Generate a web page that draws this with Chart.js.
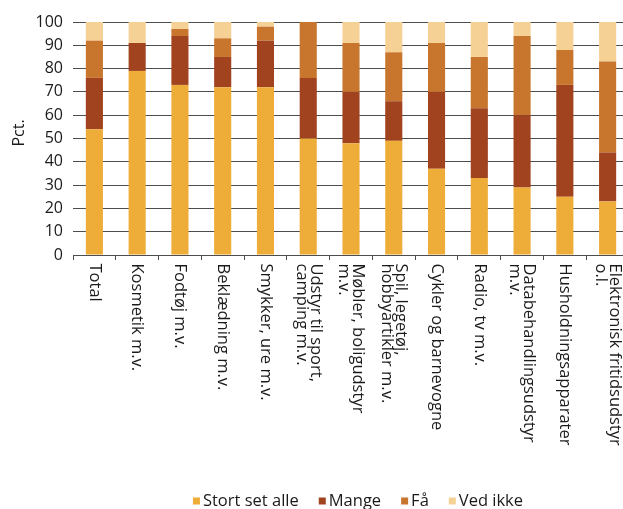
<!DOCTYPE html>
<html>
<head>
<meta charset="utf-8">
<script src="https://cdn.jsdelivr.net/npm/chart.js@4.4.1/dist/chart.umd.min.js"></script>
<style>
  html, body { margin: 0; padding: 0; background: #fff; overflow: hidden; }
  #wrap { width: 629px; height: 509px; position: relative; }
</style>
</head>
<body>
<div id="wrap"><canvas id="c"></canvas></div>
<script>
// Product groups (multi-line labels are split into lines)
const categories = [
  ["Total"],
  ["Kosmetik m.v."],
  ["Fodtøj m.v."],
  ["Beklædning m.v."],
  ["Smykker, ure m.v."],
  ["Udstyr til sport,", "camping m.v."],
  ["Møbler, boligudstyr", "m.v."],
  ["Spil, legetøj,", "hobbyartikler m.v."],
  ["Cykler og barnevogne"],
  ["Radio, tv m.v."],
  ["Databehandlingsudstyr", "m.v."],
  ["Husholdningsapparater"],
  ["Elektronisk fritidsudstyr", "o.l."]
];

// Share of answers, pct.
const stortSetAlle = [54, 79, 73, 72, 72, 50, 48, 49, 37, 33, 29, 25, 23];
const mange        = [22, 12, 21, 13, 20, 26, 22, 17, 33, 30, 31, 48, 21];
const faa          = [16,  0,  3,  8,  6, 24, 21, 21, 21, 22, 34, 15, 39];
const vedIkke      = [ 8,  9,  3,  7,  2,  0,  9, 13,  9, 15,  6, 12, 17];

const seriesNames = ["Stort set alle", "Mange", "Få", "Ved ikke"];
const yTicks = [0, 10, 20, 30, 40, 50, 60, 70, 80, 90, 100];
const yTitle = "Pct.";

const colors = ["#EEAC38", "#A0431E", "#C8762D", "#F6D196"];
const FONT = '"Open Sans", "Noto Sans", sans-serif';
const TEXT = "#1a1a1a";
const GRID = "#4d4d4d";

// Category labels drawn rotated clockwise, centred under each bar
const xLabelPlugin = {
  id: "xLabels",
  afterDraw(chart) {
    const { ctx } = chart;
    const x = chart.scales.x;
    ctx.save();
    ctx.font = "16.5px " + FONT;
    ctx.fillStyle = TEXT;
    ctx.textAlign = "left";
    ctx.textBaseline = "middle";
    const start = x.top + 8.5;
    const lineH = 14;
    categories.forEach((lines, i) => {
      const cx = x.getPixelForValue(i);
      ctx.save();
      ctx.translate(cx, start);
      ctx.rotate(Math.PI / 2);
      lines.forEach((t, j) => {
        ctx.fillText(t, 0, (j - (lines.length - 1) / 2) * lineH);
      });
      ctx.restore();
    });
    // axis title
    ctx.save();
    ctx.font = "16px " + FONT;
    ctx.translate(19, 133);
    ctx.rotate(-Math.PI / 2);
    ctx.textAlign = "center";
    ctx.fillText(yTitle, 0, 0);
    ctx.restore();
    ctx.restore();
  }
};

// Legend row along the bottom
const legendPlugin = {
  id: "bottomLegend",
  afterDraw(chart) {
    const { ctx } = chart;
    const items = chart.data.datasets;
    ctx.save();
    ctx.font = "16.5px " + FONT;
    ctx.textBaseline = "middle";
    ctx.textAlign = "left";
    const box = 7, gapText = 3, gapItem = 20;
    const widths = items.map(d => box + gapText + ctx.measureText(d.label).width);
    const total = widths.reduce((a, b) => a + b, 0) + gapItem * (items.length - 1);
    let px = 358 - total / 2;
    const cy = 501;
    items.forEach((d, i) => {
      ctx.fillStyle = d.backgroundColor;
      ctx.fillRect(px, cy - box / 2, box, box);
      ctx.fillStyle = TEXT;
      ctx.fillText(d.label, px + box + gapText, cy);
      px += widths[i] + gapItem;
    });
    ctx.restore();
  }
};

function draw() {
  const values = [stortSetAlle, mange, faa, vedIkke];
  new Chart(document.getElementById("c"), {
    type: "bar",
    data: {
      labels: categories.map(l => l.join(" ")),
      datasets: values.map((v, i) => ({
        label: seriesNames[i],
        data: v,
        backgroundColor: colors[i],
        borderWidth: 0,
        barPercentage: 0.4,
        categoryPercentage: 1.0
      }))
    },
    options: {
      responsive: true,
      maintainAspectRatio: false,
      animation: false,
      layout: { padding: { top: 22, right: 0, bottom: 0, left: 0 } },
      plugins: { legend: { display: false }, tooltip: { enabled: false } },
      scales: {
        x: {
          stacked: true,
          offset: true,
          grid: { drawOnChartArea: false, drawTicks: true, tickLength: 5, color: GRID, offset: true },
          border: { display: true, color: GRID, width: 1 },
          ticks: { display: false },
          afterFit(scale) { scale.height = 254; }
        },
        y: {
          stacked: true,
          min: 0,
          max: 100,
          afterBuildTicks(scale) { scale.ticks = yTicks.map(v => ({ value: v })); },
          grid: { color: GRID, lineWidth: 1, drawTicks: false },
          border: { display: false },
          ticks: { font: { size: 16, family: FONT }, color: TEXT, padding: 10 },
          afterFit(scale) { scale.width = 73; }
        }
      }
    },
    plugins: [xLabelPlugin, legendPlugin]
  });
}

if (document.fonts && document.fonts.load) {
  document.fonts.load("16px \"Open Sans\"").then(draw, draw);
} else {
  draw();
}
</script>
</body>
</html>
